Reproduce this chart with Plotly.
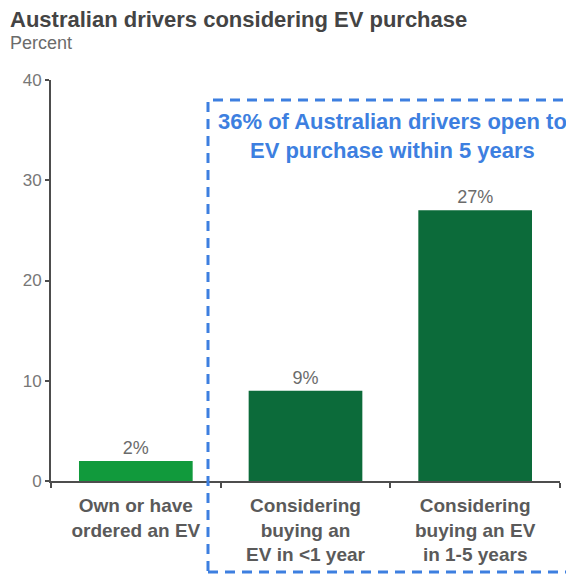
import plotly.graph_objects as go

categories = ["Own or have<br>ordered an EV", "Considering<br>buying an<br>EV in <1 year", "Considering<br>buying an EV<br>in 1-5 years"]
values = [2, 9, 27]
value_labels = ["2%", "9%", "27%"]
bar_colors = ["#119a3c", "#0c6b3a", "#0c6b3a"]
y_ticks = [0, 10, 20, 30, 40]

# page has an 8px body margin; work in screen pixels and convert
OFF = 8
W, H = 566, 567
ml, mr, mt, mb = 51 - OFF, 14, 80 - OFF, 94

fig = go.Figure()
fig.add_trace(go.Bar(
    x=categories, y=values, marker=dict(color=bar_colors, line=dict(width=0)),
    width=0.67, text=value_labels, textposition="outside", cliponaxis=False,
    textfont=dict(family="Arial, Liberation Sans", size=18, color="#6b6b6b"),
))

fig.update_layout(
    width=W, height=H, margin=dict(l=ml, r=mr, t=mt, b=mb, autoexpand=False),
    plot_bgcolor="white", paper_bgcolor="white", showlegend=False,
    font=dict(family="Arial, Liberation Sans"),
    xaxis=dict(range=[-0.5, 2.5], showline=True, linecolor="#4d4d4d", linewidth=2,
               ticks="outside", tickson="boundaries", ticklen=5, tickwidth=2, tickcolor="#4d4d4d",
               tickfont=dict(size=19, color="#5a5a5a", weight="bold"), ticklabelstandoff=6,
               showgrid=False, fixedrange=True, automargin=False),
    yaxis=dict(range=[0, 40], tickvals=y_ticks, showline=True, linecolor="#4d4d4d", linewidth=2,
               ticks="outside", ticklen=4, tickwidth=2, tickcolor="#4d4d4d",
               tickfont=dict(size=17, color="#777777"), showgrid=False, zeroline=False,
               automargin=False),
    bargap=0.33,
)

pw = W - ml - mr
ph = H - mt - mb
def px_x(px):
    return (px - OFF - ml) / pw
def px_y(py):
    return 1 - (py - OFF - mt) / ph

# Title and subtitle
fig.add_annotation(text="<b>Australian drivers considering EV purchase</b>", xref="paper", yref="paper",
                   x=px_x(8), y=px_y(19), xanchor="left", yanchor="middle",
                   showarrow=False, font=dict(size=22, color="#444444"))
fig.add_annotation(text="Percent", xref="paper", yref="paper",
                   x=px_x(8), y=px_y(43), xanchor="left", yanchor="middle",
                   showarrow=False, font=dict(size=18, color="#6b6b6b"))

# Dashed box
fig.add_shape(type="rect", xref="paper", yref="paper",
              x0=px_x(208), x1=px_x(600), y0=px_y(572), y1=px_y(100),
              line=dict(color="#3d7fe0", width=3, dash="10px,7px"), fillcolor="rgba(0,0,0,0)", layer="above")

fig.add_annotation(text="<b>36% of Australian drivers open to<br>EV purchase within 5 years</b>",
                   xref="paper", yref="paper", x=px_x(392), y=px_y(136), xanchor="center", yanchor="middle",
                   showarrow=False, font=dict(size=22, color="#3d7fe0"))

fig.write_html("out.html")
